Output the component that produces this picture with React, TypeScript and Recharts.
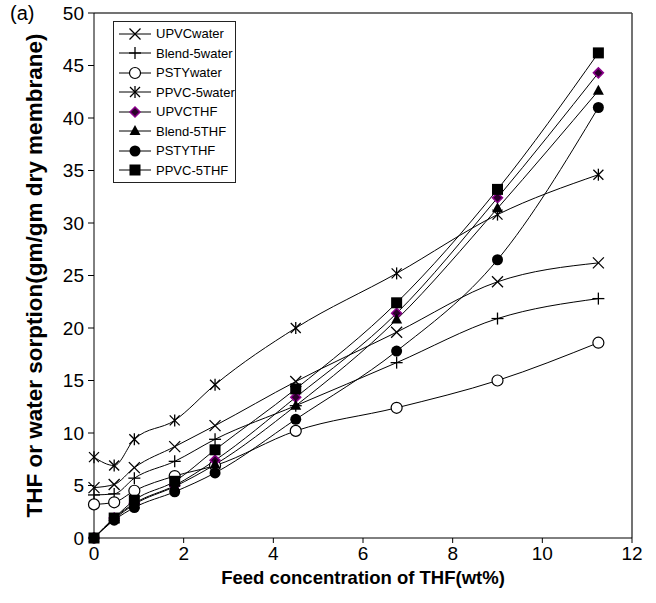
import { LineChart, Line, XAxis, YAxis, Legend, ReferenceLine } from "recharts";

const feedConc = [0, 0.45, 0.9, 1.8, 2.7, 4.5, 6.75, 9, 11.25];

const upvcWater = [4.8, 5.1, 6.7, 8.7, 10.7, 14.9, 19.6, 24.4, 26.2];
const blendWater = [4.1, 4.2, 5.7, 7.3, 9.4, 12.6, 16.7, 20.9, 22.8];
const pstyWater = [3.2, 3.4, 4.5, 5.9, 6.9, 10.2, 12.4, 15.0, 18.6];
const ppvcWater = [7.7, 6.9, 9.4, 11.2, 14.6, 20.0, 25.2, 30.8, 34.6];
const upvcThf = [0, 1.9, 3.3, 5.0, 7.4, 13.4, 21.4, 32.4, 44.3];
const blendThf = [0, 1.8, 3.2, 4.9, 7.0, 12.6, 20.8, 31.4, 42.6];
const pstyThf = [0, 1.7, 2.9, 4.4, 6.2, 11.3, 17.8, 26.5, 41.0];
const ppvcThf = [0, 1.9, 3.6, 5.4, 8.4, 14.2, 22.4, 33.2, 46.2];

const xTicks = [0, 2, 4, 6, 8, 10, 12];
const yTicks = [0, 5, 10, 15, 20, 25, 30, 35, 40, 45, 50];

type Shape = "cross" | "plus" | "ring" | "star" | "diamond" | "triangle" | "dot" | "square";

const series: { key: string; name: string; shape: Shape; values: number[] }[] = [
  { key: "upvcWater", name: "UPVCwater", shape: "cross", values: upvcWater },
  { key: "blendWater", name: "Blend-5water", shape: "plus", values: blendWater },
  { key: "pstyWater", name: "PSTYwater", shape: "ring", values: pstyWater },
  { key: "ppvcWater", name: "PPVC-5water", shape: "star", values: ppvcWater },
  { key: "upvcThf", name: "UPVCTHF", shape: "diamond", values: upvcThf },
  { key: "blendThf", name: "Blend-5THF", shape: "triangle", values: blendThf },
  { key: "pstyThf", name: "PSTYTHF", shape: "dot", values: pstyThf },
  { key: "ppvcThf", name: "PPVC-5THF", shape: "square", values: ppvcThf },
];

const data = feedConc.map((x, i) => {
  const row: Record<string, number> = { x };
  series.forEach((s) => (row[s.key] = s.values[i]));
  return row;
});

const FONT = "'Liberation Sans', Arial, sans-serif";

function Marker({ shape, cx, cy }: { shape: Shape; cx: number; cy: number }) {
  const k = "#000";
  switch (shape) {
    case "cross":
      return (
        <g stroke={k} strokeWidth={1.3}>
          <line x1={cx - 5.5} y1={cy - 5.5} x2={cx + 5.5} y2={cy + 5.5} />
          <line x1={cx - 5.5} y1={cy + 5.5} x2={cx + 5.5} y2={cy - 5.5} />
        </g>
      );
    case "plus":
      return (
        <g stroke={k} strokeWidth={1.3}>
          <line x1={cx - 6} y1={cy} x2={cx + 6} y2={cy} />
          <line x1={cx} y1={cy - 6} x2={cx} y2={cy + 6} />
        </g>
      );
    case "ring":
      return <circle cx={cx} cy={cy} r={5.5} fill="#fff" stroke={k} strokeWidth={1.2} />;
    case "star":
      return (
        <g stroke={k} strokeWidth={1.3}>
          <line x1={cx - 5} y1={cy - 5} x2={cx + 5} y2={cy + 5} />
          <line x1={cx - 5} y1={cy + 5} x2={cx + 5} y2={cy - 5} />
          <line x1={cx} y1={cy - 6} x2={cx} y2={cy + 6} />
        </g>
      );
    case "diamond":
      return (
        <polygon
          points={`${cx},${cy - 5} ${cx + 5},${cy} ${cx},${cy + 5} ${cx - 5},${cy}`}
          fill="#2a002a"
          stroke="#8b008b"
          strokeWidth={1.5}
        />
      );
    case "triangle":
      return <polygon points={`${cx},${cy - 6} ${cx + 5.5},${cy + 4} ${cx - 5.5},${cy + 4}`} fill={k} />;
    case "dot":
      return <circle cx={cx} cy={cy} r={5.5} fill={k} />;
    case "square":
      return <rect x={cx - 5.5} y={cy - 5.5} width={11} height={11} fill={k} />;
  }
}

function LegendBox() {
  return (
    <div
      style={{
        border: "1px solid #222",
        background: "#fff",
        padding: "2px 0",
        fontFamily: FONT,
        fontSize: 13,
        color: "#000",
      }}
    >
      {series.map((s) => (
        <div key={s.key} style={{ display: "flex", alignItems: "center", height: 19.5 }}>
          <svg width={38} height={14} style={{ marginLeft: 3 }}>
            <line x1={2} y1={7} x2={34} y2={7} stroke="#000" strokeWidth={1} />
            <Marker shape={s.shape} cx={18} cy={7} />
          </svg>
          <span style={{ marginLeft: 1 }}>{s.name}</span>
        </div>
      ))}
    </div>
  );
}

export default function App() {
  return (
    <div style={{ position: "absolute", left: 0, top: 0, width: 656, height: 603, background: "#fff" }}>
      <span style={{ position: "absolute", left: 10, top: 2, fontFamily: FONT, fontSize: 20 }}>(a)</span>
      <LineChart width={656} height={603} data={data} margin={{ top: 13, right: 24, bottom: 0, left: 0 }}>
        <XAxis
          dataKey="x"
          type="number"
          domain={[0, 12]}
          ticks={xTicks}
          height={65}
          tickSize={5}
          tickMargin={4}
          stroke="#000"
          tick={{ fill: "#000", fontSize: 19, fontFamily: FONT }}
          label={{
            value: "Feed concentration of THF(wt%)",
            position: "insideBottom",
            offset: 19,
            style: { fontFamily: FONT, fontSize: 18.5, fontWeight: "bold", fill: "#000" },
          }}
        />
        <YAxis
          type="number"
          domain={[0, 50]}
          ticks={yTicks}
          width={94}
          tickSize={6}
          tickMargin={4}
          stroke="#000"
          tick={{ fill: "#000", fontSize: 19, fontFamily: FONT }}
          label={{
            value: "THF or water sorption(gm/gm dry membrane)",
            angle: -90,
            position: "insideLeft",
            offset: 34,
            style: { fontFamily: FONT, fontSize: 22.5, fontWeight: "bold", fill: "#000", textAnchor: "middle" },
          }}
        />
        <ReferenceLine y={50} stroke="#444" strokeWidth={1.5} />
        <ReferenceLine x={12} stroke="#444" strokeWidth={1.5} />
        <Legend
          layout="vertical"
          align="center"
          verticalAlign="middle"
          wrapperStyle={{ position: "absolute", left: 113, top: 21, width: 123 }}
          content={() => <LegendBox />}
        />
        {series.map((s) => (
          <Line
            key={s.key}
            dataKey={s.key}
            name={s.name}
            type="monotone"
            stroke="#000"
            strokeWidth={1}
            isAnimationActive={false}
            dot={(p: any) => <Marker key={`${s.key}-${p.index}`} shape={s.shape} cx={p.cx} cy={p.cy} />}
            activeDot={false}
          />
        ))}
      </LineChart>
    </div>
  );
}
